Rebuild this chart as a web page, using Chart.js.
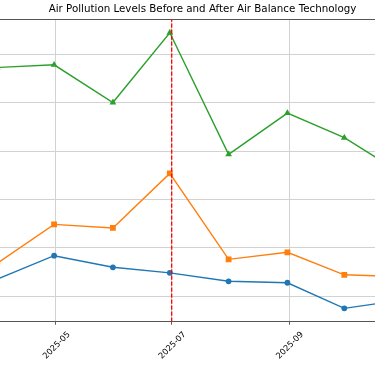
<!DOCTYPE html>
<html>
<head>
<meta charset="utf-8">
<script src="https://cdn.jsdelivr.net/npm/chart.js@4/dist/chart.umd.min.js"></script>
<style>
  html, body { margin: 0; padding: 0; background: #fff; }
  #view { position: relative; width: 375px; height: 366px; overflow: hidden; background: #fff; }
  #c { position: absolute; left: 0; top: 0; }
</style>
</head>
<body>
<div id="view"><canvas id="c" width="405" height="366"></canvas></div>
<script>
// ---- data ----
const dates = ['2025-03-31', '2025-04-30', '2025-05-31', '2025-06-30', '2025-07-31', '2025-08-31', '2025-09-30', '2025-10-31'];
const seriesNames = ['PM2.5', 'PM10', 'NO2'];
const pm25 = [13.5, 18.35, 15.95, 14.8, 13.05, 12.75, 7.45, 9.2];
const pm10 = [16.8, 24.85, 24.1, 35.4, 17.6, 19.05, 14.4, 14.0];
const no2  = [57.35, 57.9, 50.1, 64.55, 39.35, 47.9, 42.8, 35.2];
const interventionDate = '2025-07-01';
const tickDates = ['2025-05-01', '2025-07-01', '2025-09-01'];
const tickLabels = ['2025-05', '2025-07', '2025-09'];
const yGrid = [10, 20, 30, 40, 50, 60];
const titleText = 'Air Pollution Levels Before and After Air Balance Technology';

// ---- helpers ----
const DAY = 86400000;
const BASE = Date.UTC(2025, 0, 1);
function toDay(s) { const [y, m, d] = s.split('-').map(Number); return (Date.UTC(y, m - 1, d) - BASE) / DAY; }
const X_MIN = 90.48, X_MAX = 304.0;
const Y_MIN = 4.68, Y_MAX = 67.33;
const pts = arr => arr.map((v, i) => ({ x: toDay(dates[i]), y: v }));
const FONT = 'DejaVu Sans';

new Chart(document.getElementById('c'), {
  type: 'line',
  data: {
    datasets: [
      { label: 'Intervention', data: [{ x: toDay(interventionDate), y: Y_MIN }, { x: toDay(interventionDate), y: Y_MAX }],
        borderColor: '#ff0000', borderWidth: 1.3, borderDash: [4.2, 1.8], pointRadius: 0, order: 0 },
      { label: seriesNames[2], data: pts(no2), borderColor: '#2ca02c', backgroundColor: '#2ca02c', borderWidth: 1.4,
        pointStyle: 'triangle', pointRadius: 3.9, pointBorderWidth: 0, order: 1 },
      { label: seriesNames[1], data: pts(pm10), borderColor: '#ff7f0e', backgroundColor: '#ff7f0e', borderWidth: 1.4,
        pointStyle: 'rect', pointRadius: 4.1, pointBorderWidth: 0, order: 2 },
      { label: seriesNames[0], data: pts(pm25), borderColor: '#1f77b4', backgroundColor: '#1f77b4', borderWidth: 1.4,
        pointStyle: 'circle', pointRadius: 2.9, pointBorderWidth: 0, order: 3 }
    ]
  },
  options: {
    responsive: false,
    animation: false,
    events: [],
    layout: { padding: 0, autoPadding: false },
    elements: { line: { tension: 0 } },
    plugins: {
      legend: { display: false },
      tooltip: { enabled: false },
      title: { display: true, text: titleText, fullSize: false, color: '#000',
        font: { family: FONT, size: 10.3, weight: 'normal', lineHeight: 1.2 },
        padding: { top: 3.2, bottom: 3.74 } }
    },
    scales: {
      x: {
        type: 'linear', position: 'bottom', min: X_MIN, max: X_MAX,
        afterBuildTicks: s => { s.ticks = tickDates.map(d => ({ value: toDay(d) })); },
        afterFit: s => { s.height = 44.3; },
        ticks: { autoSkip: false, maxRotation: 45, minRotation: 45, labelOffset: 13, padding: 5,
          color: '#000', font: { family: FONT, size: 8.3 },
          callback: (v, i) => tickLabels[i] },
        grid: { color: '#d2d2d2', lineWidth: 1, drawTicks: true, tickLength: 3, tickColor: '#555' },
        border: { color: '#555', width: 1.1 }
      },
      x2: {
        type: 'linear', position: 'top', min: X_MIN, max: X_MAX,
        ticks: { display: false }, grid: { display: false, drawTicks: false },
        border: { display: true, color: '#555', width: 1.1 },
        afterFit: s => { s.height = 0; }
      },
      y: {
        type: 'linear', min: Y_MIN, max: Y_MAX,
        afterBuildTicks: s => { s.ticks = yGrid.map(v => ({ value: v })); },
        afterFit: s => { s.width = 0; },
        ticks: { display: false },
        grid: { color: '#d2d2d2', lineWidth: 1, drawTicks: false },
        border: { display: false }
      }
    }
  }
});
</script>
</body>
</html>
